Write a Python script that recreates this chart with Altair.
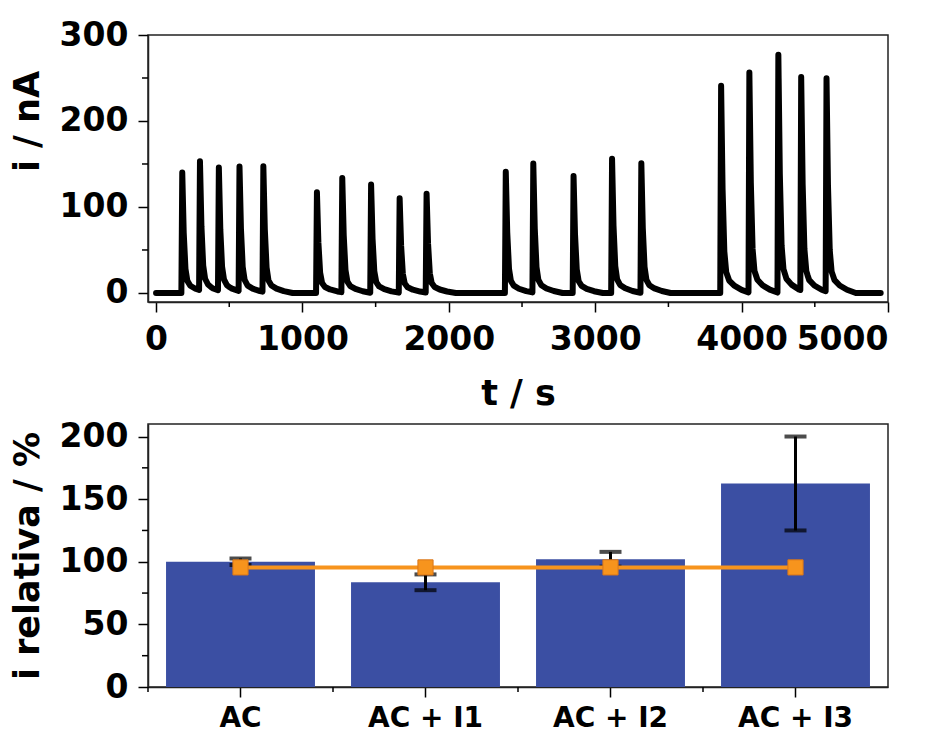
import altair as alt
import numpy as np
import pandas as pd

# ---------------- data ----------------
# top panel: amperometric trace, one peak per injection
peak_t = [179, 300, 429, 570, 733, 1099, 1272, 1469, 1664, 1848,
          2389, 2577, 2852, 3115, 3315, 3860, 4053, 4251, 4407, 4580]
peak_h = [140, 150, 143, 145, 146, 117, 133, 126, 110, 115,
          141, 150, 136, 156, 151, 241, 256, 277, 248, 248]
# shape of one peak (time offset in s, fraction of peak height)
shape_dt = [-6, 0, 10, 22, 35, 55, 90, 140, 200]
shape_f = [0.0, 1.0, 0.5, 0.2, 0.1, 0.06, 0.035, 0.015, 0.0]
trace_start, trace_end = 0, 4950

# bottom panel
cats = ["AC", "AC + I1", "AC + I2", "AC + I3"]
bar_vals = [100, 83.6, 102, 162.5]
bar_err = [2.6, 6.3, 5.9, 37.5]
ref_vals = [95.5, 95.5, 95.5, 95.5]

top_x_major = [0, 1000, 2000, 3000, 4000, 5000]
top_x_minor = [500, 1500, 2500, 3500, 4500]
top_y_major = [0, 100, 200, 300]
top_y_minor = [50, 150, 250]
bot_y_major = [0, 50, 100, 150, 200]
bot_y_minor = [25, 75, 125, 175]

# ---------------- build tables ----------------
ts = {trace_start, trace_end}
for p in peak_t:
    for d in shape_dt:
        ts.add(p + d)
ts = sorted(ts)
vals = []
for t in ts:
    v = 0.0
    for p, h in zip(peak_t, peak_h):
        v += h * np.interp(t, np.array(shape_dt) + p, shape_f, left=0.0, right=0.0)
    vals.append(v)
df_trace = pd.DataFrame({"t": ts, "i": vals})

df_bar = pd.DataFrame({
    "cat": cats,
    "val": bar_vals,
    "lo": [v - e for v, e in zip(bar_vals, bar_err)],
    "hi": [v + e for v, e in zip(bar_vals, bar_err)],
    "ref": ref_vals,
})

FONT = "DejaVu Sans"
W = 740
H_TOP = 267
H_BOT = 263
BLUE = "#3B4FA3"
ORANGE = "#F7941D"

# ---------------- top panel ----------------
xs_top = alt.Scale(domain=[-55, 5000], nice=False, zero=False)
ys_top = alt.Scale(domain=[-10.5, 300], nice=False, zero=False)
ax_top_x = alt.Axis(values=top_x_major, title="t / s", tickSize=10, tickWidth=1.5,
                    labelPadding=11, titlePadding=20, grid=False, format="d")
ax_top_y = alt.Axis(values=top_y_major, title="i / nA", tickSize=10, tickWidth=1.5,
                    labelPadding=10, titlePadding=14, grid=False, titleY=86)

trace = alt.Chart(df_trace).mark_line(
    color="black", strokeWidth=6, strokeJoin="round", strokeCap="round"
).encode(
    x=alt.X("t:Q", scale=xs_top, axis=ax_top_x),
    y=alt.Y("i:Q", scale=ys_top, axis=ax_top_y),
)
top_minor_x = alt.Chart(pd.DataFrame({"t": top_x_minor})).mark_rule(
    color="black", strokeWidth=1.5
).encode(
    x=alt.X("t:Q", scale=xs_top, axis=ax_top_x),
    y=alt.value(H_TOP), y2=alt.value(H_TOP + 5),
)
top_minor_y = alt.Chart(pd.DataFrame({"i": top_y_minor})).mark_rule(
    color="black", strokeWidth=1.5
).encode(
    y=alt.Y("i:Q", scale=ys_top, axis=ax_top_y),
    x=alt.value(0), x2=alt.value(-6),
)
top = alt.layer(trace, top_minor_x, top_minor_y).properties(width=W, height=H_TOP)

# ---------------- bottom panel ----------------
xs_bot = alt.Scale(domain=cats, paddingInner=0, paddingOuter=0)
ys_bot = alt.Scale(domain=[0, 210], nice=False)
ax_bot_x = alt.Axis(title=None, labelAngle=0, tickSize=10, tickWidth=1.5,
                    labelPadding=7, labelFontSize=28, grid=False)
ax_bot_y = alt.Axis(values=bot_y_major, title="i relativa / %", tickSize=10, tickWidth=1.5,
                    labelPadding=10, titlePadding=14, grid=False)

X = alt.X("cat:N", scale=xs_bot, sort=cats, axis=ax_bot_x)

bars = alt.Chart(df_bar).mark_bar(color=BLUE, width=alt.RelativeBandSize(0.805)).encode(
    x=X, y=alt.Y("val:Q", scale=ys_bot, axis=ax_bot_y),
)
err = alt.Chart(df_bar).mark_rule(color="black", strokeWidth=3).encode(
    x=X, y=alt.Y("lo:Q", scale=ys_bot, axis=ax_bot_y), y2="hi:Q",
)
cap_lo = alt.Chart(df_bar).mark_tick(color="black", thickness=4, size=22).encode(
    x=X, y=alt.Y("lo:Q", scale=ys_bot, axis=ax_bot_y),
)
cap_hi = alt.Chart(df_bar).mark_tick(color="black", thickness=4, size=22).encode(
    x=X, y=alt.Y("hi:Q", scale=ys_bot, axis=ax_bot_y),
)
ref_line = alt.Chart(df_bar).mark_line(color=ORANGE, strokeWidth=4).encode(
    x=X, y=alt.Y("ref:Q", scale=ys_bot, axis=ax_bot_y),
)
ref_pts = alt.Chart(df_bar).mark_square(
    size=230, color=ORANGE, opacity=1, filled=True, stroke="#D9761A", strokeWidth=1
).encode(
    x=X, y=alt.Y("ref:Q", scale=ys_bot, axis=ax_bot_y),
)
bot_minor_x = alt.Chart(df_bar).mark_rule(color="black", strokeWidth=1.5).encode(
    x=alt.X("cat:N", scale=xs_bot, sort=cats, axis=ax_bot_x, bandPosition=0),
    y=alt.value(H_BOT), y2=alt.value(H_BOT + 5),
)
bot_minor_y = alt.Chart(pd.DataFrame({"val": bot_y_minor})).mark_rule(
    color="black", strokeWidth=1.5
).encode(
    y=alt.Y("val:Q", scale=ys_bot, axis=ax_bot_y),
    x=alt.value(0), x2=alt.value(-6),
)
bottom = alt.layer(bars, err, cap_lo, cap_hi, ref_line, ref_pts, bot_minor_x, bot_minor_y).properties(
    width=W, height=H_BOT
)

chart = alt.vconcat(top, bottom, spacing=7).properties(
    padding={"left": 1, "top": 10, "right": 5, "bottom": 0}
).configure_view(
    stroke="#222222", strokeWidth=1.5
).configure_axis(
    labelFont=FONT, labelFontWeight="bold", labelFontSize=33, labelColor="black",
    titleFont=FONT, titleFontWeight="bold", titleFontSize=35, titleColor="black",
    domainColor="#222222", domainWidth=1.5, tickColor="black",
).configure_concat(spacing=7)

chart.save("out.html", embed_options={"renderer": "svg", "actions": False})
